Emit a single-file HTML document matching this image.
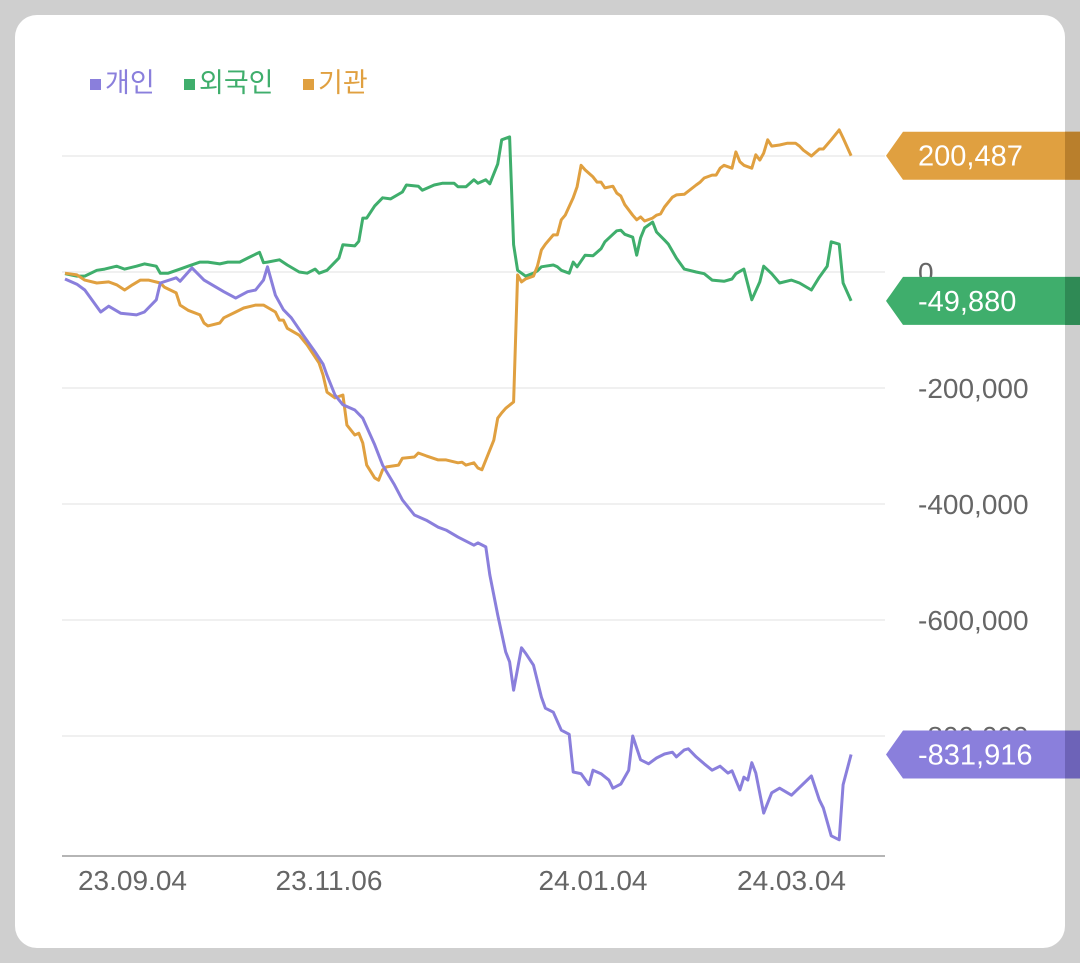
<!DOCTYPE html>
<html><head><meta charset="utf-8">
<style>
html,body{margin:0;padding:0;background:#cfcfcf;width:1080px;height:963px;overflow:hidden;}
svg{display:block;font-family:"Liberation Sans","Noto Sans CJK KR",sans-serif;}
</style></head>
<body>
<svg width="1080" height="963" viewBox="0 0 1080 963">
<rect x="15" y="15" width="1050" height="933" rx="22" fill="#ffffff"/>
<g id="grid"></g>
<g id="ylabels"></g>
<line x1="62" y1="856" x2="885" y2="856" stroke="#b5b5b5" stroke-width="2"/>
<g id="xlabels"></g>
<g id="series"></g>
<g id="badges"></g>
<g>
  <g>
    <rect x="90" y="79" width="11" height="11" fill="#8a7fdc"/>
    <text x="105" y="92" font-size="27" fill="#8a7fdc">개인</text>
  </g>
  <g>
    <rect x="184" y="79" width="11" height="11" fill="#3fae6c"/>
    <text x="199" y="92" font-size="27" fill="#3fae6c">외국인</text>
  </g>
  <g>
    <rect x="303" y="79" width="11" height="11" fill="#e0a040"/>
    <text x="318" y="92" font-size="27" fill="#e0a040">기관</text>
  </g>
</g>
</svg>
<script>
const yTicks = [200000, 0, -200000, -400000, -600000, -800000];
const yTickLabels = ["200,000", "0", "-200,000", "-400,000", "-600,000", "-800,000"];
const xTickDays = [17, 66.5, 133, 183];
const xTickLabels = ["23.09.04", "23.11.06", "24.01.04", "24.03.04"];
const seriesNames = ["개인", "외국인", "기관"];
const individualDays = [0,3,5,9,11,14,18,20,23,24,28,29,32,35,38,40,43,46,48,50,51,53,55,57,60,63,65,66,68,70,73,75,78,80,83,85,88,91,94,96,99,103,104,106,107,109,111,112,113,115,116,118,120,121,123,125,127,128,130,132,133,135,137,138,140,142,143,145,147,149,151,153,154,156,157,159,161,163,165,167,168,170,171,172,173,174,176,178,180,183,188,190,191,193,195,196,198];
const individualVals = [-12,-21,-31,-69,-59,-71,-74,-69,-48,-19,-10,-16,7,-14,-26,-34,-45,-34,-31,-14,9,-40,-65,-79,-109,-138,-159,-178,-212,-229,-238,-252,-298,-333,-367,-393,-419,-428,-440,-445,-457,-471,-467,-474,-522,-591,-655,-672,-721,-648,-657,-678,-733,-752,-759,-790,-797,-862,-865,-884,-859,-865,-876,-890,-883,-859,-800,-841,-848,-838,-831,-828,-836,-824,-822,-836,-848,-859,-852,-864,-860,-893,-871,-876,-846,-864,-933,-898,-890,-902,-869,-910,-924,-972,-979,-884,-831.916];
const foreignDays = [0,3,5,8,10,13,15,18,20,23,24,26,29,31,34,36,39,41,44,46,49,50,51,54,56,59,61,63,64,66,69,70,73,74,75,76,78,80,82,85,86,89,90,93,95,98,99,101,103,104,106,107,109,110,112,113,114,116,118,119,120,121,123,124,125,127,128,129,131,133,135,136,138,139,140,141,143,144,145,146,148,149,151,152,154,156,159,161,163,166,168,169,171,173,175,176,178,180,183,185,188,190,192,193,195,196,198];
const foreignVals = [-3,-7,-7,3,5,10,5,10,14,10,-2,-2,5,10,17,17,14,17,17,24,34,16,17,21,12,0,-2,5,-2,3,24,47,45,53,93,93,114,128,126,138,150,148,141,150,153,153,147,147,159,153,159,152,186,228,233,47,3,-7,-2,2,9,10,12,9,3,-2,17,9,29,28,40,52,65,71,72,65,60,29,59,76,86,69,55,48,24,5,0,-3,-14,-16,-12,-3,5,-48,-17,10,-3,-19,-14,-19,-31,-9,10,52,48,-19,-49.88];
const institutionDays = [0,3,5,8,11,13,15,17,19,21,24,25,28,29,31,34,35,36,39,40,43,45,48,50,53,54,55,56,59,61,64,65,66,68,70,71,73,74,75,76,78,79,80,81,84,85,88,89,91,94,96,99,100,101,103,104,105,108,109,110,111,113,114,115,116,118,119,120,121,123,124,125,126,128,129,130,131,133,134,135,136,138,139,140,141,143,144,145,146,148,149,150,151,153,154,156,159,160,161,163,164,165,166,168,169,170,171,173,174,175,176,177,178,180,182,184,185,186,188,190,191,193,195,196,198];
const institutionVals = [-2,-5,-14,-19,-17,-22,-31,-22,-14,-14,-19,-26,-36,-57,-66,-74,-88,-93,-88,-79,-69,-62,-57,-57,-69,-83,-83,-97,-109,-126,-157,-178,-207,-217,-212,-264,-281,-278,-295,-333,-355,-359,-341,-336,-333,-321,-319,-312,-317,-324,-324,-329,-328,-333,-329,-338,-341,-290,-252,-243,-235,-224,-5,-17,-12,-7,10,38,48,64,64,90,98,128,147,184,176,164,155,155,145,148,136,131,116,98,90,95,88,93,98,100,112,129,133,134,150,155,162,167,167,179,184,179,207,190,184,179,202,193,205,228,217,219,222,222,217,210,200,212,212,228,245,231,200.487];
const lastLabels = ["-831,916", "-49,880", "200,487"];

const colors = ["#8a7fdc", "#3fae6c", "#e0a040"];
const darkColors = ["#6d63b8", "#2f8a55", "#b97f2c"];
const NS = "http://www.w3.org/2000/svg";
function xScale(d){ return 65 + d * 3.97; }
function yScale(v){ return 272 - v * 116 / 200000; }
function mk(tag, attrs, parent){ const e = document.createElementNS(NS, tag); for (const k in attrs) e.setAttribute(k, attrs[k]); parent.appendChild(e); return e; }

const grid = document.getElementById('grid');
const yl = document.getElementById('ylabels');
yTicks.forEach((t, i) => {
  const y = yScale(t);
  const ln = mk('line', {x1: 62, x2: 885, y1: y, y2: y, stroke: '#ececec', 'stroke-width': 1.5}, grid);
  
  
  const tx = mk('text', {x: 918, y: y + 10, 'font-size': 28, fill: '#666'}, yl);
  tx.textContent = yTickLabels[i];
  
  
});
const xl = document.getElementById('xlabels');
xTickDays.forEach((d, i) => {
  const tx = mk('text', {x: xScale(d), y: 890, 'font-size': 28, fill: '#666', 'text-anchor': 'middle'}, xl);
  tx.textContent = xTickLabels[i];
  
  
});

const sg = document.getElementById('series');
const allDays = [individualDays, foreignDays, institutionDays];
const allVals = [individualVals, foreignVals, institutionVals];
const lineNames = ['line-individual', 'line-foreign', 'line-institution'];
[1, 2, 0].forEach(s => {
  const pts = allDays[s].map((d, i) => xScale(d).toFixed(1) + ',' + yScale(allVals[s][i] * 1000).toFixed(1)).join(' ');
  const pl = mk('polyline', {points: pts, fill: 'none', stroke: colors[s], 'stroke-width': 3, 'stroke-linejoin': 'round'}, sg);
  
  
});

const bg = document.getElementById('badges');
const badgeNames = ['badge-individual', 'badge-foreign', 'badge-institution'];
[0, 1, 2].forEach(s => {
  const v = allVals[s][allVals[s].length - 1] * 1000;
  const y = yScale(v);
  const g = mk('g', {}, bg);
  
  
  mk('path', {d: `M886,${y} L903,${y-24} L1080,${y-24} L1080,${y+24} L903,${y+24} Z`, fill: colors[s]}, g);
  mk('rect', {x: 1065, y: y - 24, width: 15, height: 48, fill: darkColors[s]}, g);
  const tx = mk('text', {x: 918, y: y + 10, 'font-size': 29, fill: '#fff'}, g);
  tx.textContent = lastLabels[s];
});
</script>
</body></html>
